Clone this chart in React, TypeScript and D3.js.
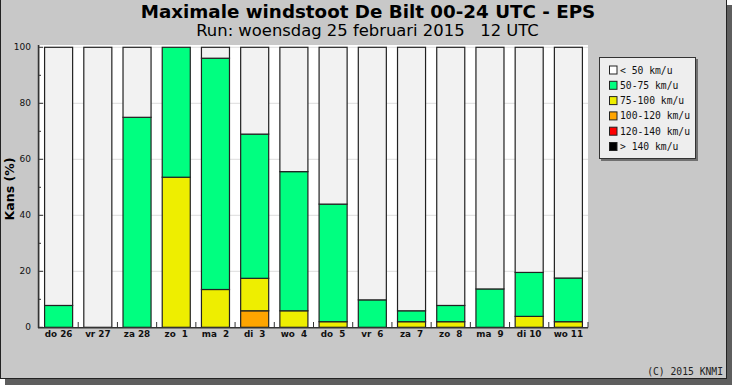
import React from "react";
import * as d3 from "d3";

const categories = ["do 26", "vr 27", "za 28", "zo  1", "ma  2", "di  3", "wo  4", "do  5", "vr  6", "za  7", "zo  8", "ma  9", "di 10", "wo 11"];
const seriesNames = ["> 140 km/u", "120-140 km/u", "100-120 km/u", "75-100 km/u", "50-75 km/u", "< 50 km/u"];
const above140 = [0, 0, 0, 0, 0, 0, 0, 0, 0, 0, 0, 0, 0, 0];
const w120to140 = [0, 0, 0, 0, 0, 0, 0, 0, 0, 0, 0, 0, 0, 0];
const w100to120 = [0, 0, 0, 0, 0, 5.9, 0, 0, 0, 0, 0, 0, 0, 0];
const w75to100 = [0, 0, 0, 53.6, 13.5, 11.6, 5.9, 2.0, 0, 2.0, 2.0, 0, 3.9, 2.0];
const w50to75 = [7.8, 0, 75.0, 46.4, 82.6, 51.5, 49.7, 42.0, 9.8, 3.9, 5.8, 13.7, 15.7, 15.6];
const below50 = [92.2, 100, 25.0, 0, 3.9, 31.0, 44.4, 56.0, 90.2, 94.1, 92.2, 86.3, 80.4, 82.4];
const seriesColors = ["#000000", "#ff0000", "#ffa500", "#eeee00", "#00ff80", "#f2f2f2"];
const legendColors = ["#ffffff", "#00ff80", "#eeee00", "#ffa500", "#ff0000", "#000000"];
const legendLabels = ["< 50 km/u", "50-75 km/u", "75-100 km/u", "100-120 km/u", "120-140 km/u", "> 140 km/u"];
const yTicks = [0, 20, 40, 60, 80, 100];
const yMinor = [10, 30, 50, 70, 90];

const W = 732, H = 385;
const plotL = 39, plotR = 588, plotT = 45;

export default function App() {
  const seriesData = [above140, w120to140, w100to120, w75to100, w50to75, below50];
  const rows = categories.map((c, i) => {
    const r: any = { cat: c };
    seriesNames.forEach((s, k) => (r[s] = seriesData[k][i]));
    return r;
  });
  const stacked = d3.stack().keys(seriesNames)(rows);
  const x = d3.scaleBand().domain(categories).range([plotL, plotR]).paddingInner(0.285).paddingOuter(0.1425);
  const y = d3.scaleLinear().domain([0, 100]).range([327.3, 47.3]);
  const step = x.step();
  const mono = "'DejaVu Sans Mono', monospace";
  const sans = "'DejaVu Sans', sans-serif";

  return (
    <svg width={W} height={H} style={{ position: "absolute", left: 0, top: 0, display: "block" }}>
      <rect x={0} y={0} width={W} height={H} fill="#ffffff" />
      <rect x={5} y={5} width={W - 5} height={H - 5} fill="#5e5e5e" />
      <rect x={0} y={0} width={727} height={379} fill="#c8c8c8" />
      <line x1={0.5} y1={0} x2={0.5} y2={379} stroke="#222" />
      <line x1={726.5} y1={0} x2={726.5} y2={379} stroke="#222" />
      <line x1={0} y1={378.5} x2={727} y2={378.5} stroke="#222" />

      <text x={368} y={18} textAnchor="middle" fontFamily={sans} fontWeight="bold" fontSize={18.3} fill="#000">
        Maximale windstoot De Bilt 00-24 UTC - EPS
      </text>
      <text x={367.5} y={35.5} textAnchor="middle" fontFamily={sans} fontSize={16.4} fill="#000" style={{ whiteSpace: "pre" }}>
        {"Run: woensdag 25 februari 2015   12 UTC"}
      </text>

      <rect x={40} y={plotT} width={plotR - 40} height={327.3 - plotT} fill="#ffffff" />
      {yTicks.filter((t) => t > 0).map((t) => (
        <line key={"g" + t} x1={40} x2={plotR} y1={y(t)} y2={y(t)} stroke="#dcdcdc" />
      ))}

      {stacked.map((layer, k) =>
        layer.map((d, i) => {
          const h = y(d[0]) - y(d[1]);
          if (h <= 0) return null;
          return (
            <rect key={k + "-" + i} x={x(categories[i])} y={y(d[1])} width={x.bandwidth()} height={h}
              fill={seriesColors[k]} stroke="#222" strokeWidth={1.2} />
          );
        })
      )}

      <line x1={38.5} y1={plotT} x2={38.5} y2={328} stroke="#333" strokeWidth={1.5} />
      <line x1={38} y1={327.8} x2={plotR} y2={327.8} stroke="#333" strokeWidth={1.5} />
      {yTicks.map((t) => (
        <g key={"yt" + t}>
          <line x1={38} x2={43} y1={y(t)} y2={y(t)} stroke="#333" />
          <text x={31} y={y(t) + 3} textAnchor="end" fontFamily={sans} fontSize={9} fill="#111">{t}</text>
        </g>
      ))}
      {yMinor.map((t) => (
        <line key={"ym" + t} x1={38} x2={41} y1={y(t)} y2={y(t)} stroke="#333" />
      ))}
      {categories.map((c, i) => (
        <g key={"xt" + i}>
          <line x1={plotL + (i + 1) * step} x2={plotL + (i + 1) * step} y1={327.5} y2={322} stroke="#333" />
          <text x={(x(c) as number) + x.bandwidth() / 2} y={337} textAnchor="middle" fontFamily={sans} fontWeight="bold"
            fontSize={8.8} fill="#111" style={{ whiteSpace: "pre" }}>{c}</text>
        </g>
      ))}

      <text transform="translate(13.5,189) rotate(-90)" textAnchor="middle" fontFamily={sans} fontWeight="bold" fontSize={12.5} fill="#000">
        Kans (%)
      </text>

      <rect x={601} y={59} width={97} height={102} fill="#707070" />
      <rect x={599.5} y={57.5} width={96} height={101} fill="#eeeeee" stroke="#333" />
      {legendLabels.map((l, i) => (
        <g key={"lg" + i}>
          <rect x={609.5} y={70 + i * 15.3 - 4} width={7.5} height={8} fill={legendColors[i]} stroke="#222" />
          <text x={620} y={70 + i * 15.3 + 3.5} fontFamily={mono} fontSize={9.7} fill="#111" style={{ whiteSpace: "pre" }}>{l}</text>
        </g>
      ))}

      <text x={723} y={375} textAnchor="end" fontFamily={mono} fontSize={9.7} fill="#222">(C) 2015 KNMI</text>
    </svg>
  );
}
